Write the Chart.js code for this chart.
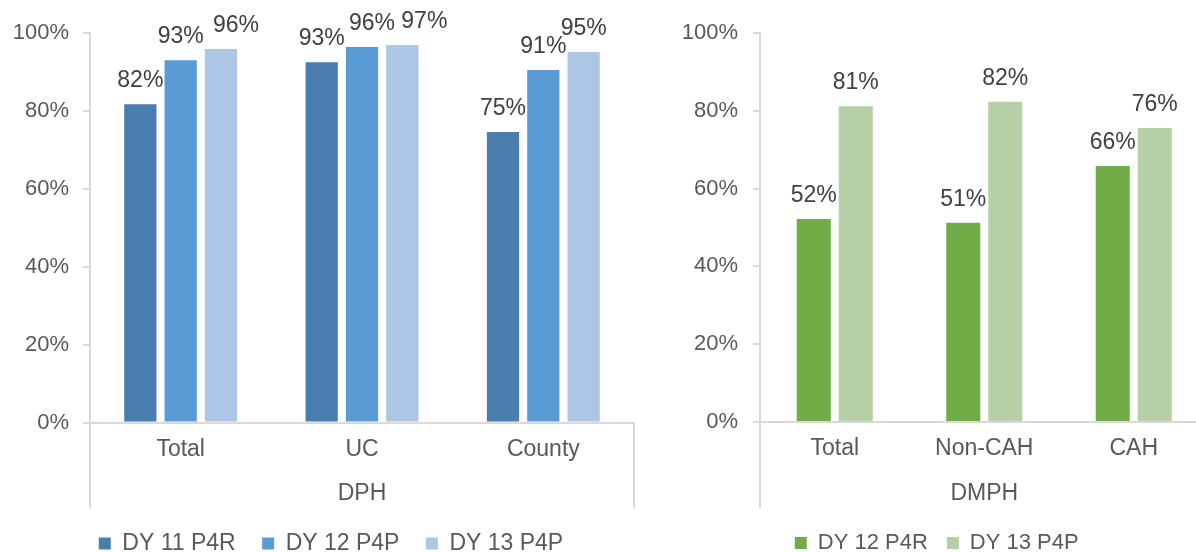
<!DOCTYPE html>
<html>
<head>
  <title>P4R / P4P results</title>
  <script src="https://cdn.jsdelivr.net/npm/chart.js"></script>
  <style>
    html, body {
      margin: 0;
      padding: 0;
      background: #fff;
      overflow: hidden;
      width: 1196px;
      height: 552px;
    }
    canvas {
      position: absolute;
      top: 0;
    }
    #chart_dph { left: 0; }
    #chart_dmph { left: 640px; }
  </style>
</head>
<body>
  <canvas id="chart_dph" width="640" height="565"></canvas>
  <canvas id="chart_dmph" width="572" height="564"></canvas>

  <script>
    // DPH systems
    const dphCategories = ['Total', 'UC', 'County'];
    const dphDy11P4R = [81.7, 92.5, 74.6];
    const dphDy12P4P = [93.0, 96.4, 90.5];
    const dphDy13P4P = [95.9, 96.9, 95.1];

    // DMPH systems
    const dmphCategories = ['Total', 'Non-CAH', 'CAH'];
    const dmphDy12P4R = [52.2, 51.2, 65.8];
    const dmphDy13P4P = [81.2, 82.3, 75.6];

    const yTicks = [0, 20, 40, 60, 80, 100];

    const axisGrey = '#d9d9d9';
    const textGrey = '#595959';

    Chart.defaults.font.family = '"Liberation Sans", Arial, sans-serif';
    Chart.defaults.color = textGrey;

    // value labels above each bar
    const barLabels = {
      id: 'barLabels',
      afterDatasetsDraw(chart, args, opts) {
        const ctx = chart.ctx;
        ctx.save();
        ctx.font = '23px "Liberation Sans", Arial, sans-serif';
        ctx.fillStyle = '#404040';
        ctx.textAlign = 'center';
        ctx.textBaseline = 'alphabetic';
        chart.data.datasets.forEach((ds, i) => {
          chart.getDatasetMeta(i).data.forEach((bar, j) => {
            const nudge = (opts.nudge && opts.nudge[i] && opts.nudge[i][j]) || 0;
            ctx.fillText(Math.round(ds.data[j]) + '%', bar.x + nudge, bar.y - 17);
          });
        });
        ctx.restore();
      }
    };

    // the axis lines run on below the category labels at both ends
    const axisEnds = {
      id: 'axisEnds',
      afterDraw(chart, args, opts) {
        const ctx = chart.ctx;
        const area = chart.chartArea;
        ctx.save();
        ctx.strokeStyle = axisGrey;
        ctx.lineWidth = 2;
        ctx.beginPath();
        [area.left, area.right].forEach(x => {
          const px = Math.round(x);
          ctx.moveTo(px, area.bottom);
          ctx.lineTo(px, area.bottom + opts.drop);
        });
        ctx.stroke();
        ctx.restore();
      }
    };

    // slide the legend sideways without moving the plot
    const legendShift = {
      id: 'legendShift',
      afterLayout(chart, args, opts) {
        if (!chart.legend || !opts.dx) return;
        chart.legend.left += opts.dx;
        chart.legend.right += opts.dx;
      }
    };

    function makeChart(id, categories, datasets, o) {
      return new Chart(document.getElementById(id), {
        type: 'bar',
        data: { labels: categories, datasets: datasets },
        plugins: [barLabels, axisEnds, legendShift],
        options: {
          responsive: false,
          animation: false,
          devicePixelRatio: 1,
          layout: { padding: { left: o.padLeft, right: o.padRight, top: 33, bottom: 0 } },
          datasets: {
            bar: {
              barPercentage: o.barPct,
              categoryPercentage: o.catPct,
              borderWidth: 0
            }
          },
          scales: {
            x: {
              grid: { display: false, drawTicks: false },
              border: { display: true, color: axisGrey, width: 2 },
              ticks: { font: { size: 23 }, color: textGrey, padding: 13 },
              title: {
                display: true,
                text: o.title,
                font: { size: 23 },
                color: textGrey,
                padding: { top: 0, bottom: o.titlePad }
              },
              afterFit: s => { s.height = o.xHeight; }
            },
            y: {
              min: 0,
              max: 100,
              afterBuildTicks: s => { s.ticks = yTicks.map(v => ({ value: v })); },
              grid: {
                drawOnChartArea: false,
                drawTicks: true,
                tickLength: 7,
                color: axisGrey,
                lineWidth: 2
              },
              border: { display: true, color: axisGrey, width: 2 },
              ticks: {
                font: { size: 22 },
                color: textGrey,
                padding: o.tickPad,
                callback: v => v + '%'
              },
              afterFit: s => { s.width = o.yWidth; }
            }
          },
          plugins: {
            legend: {
              position: 'bottom',
              labels: {
                boxWidth: 12,
                boxHeight: 12,
                padding: o.legendPad,
                color: textGrey,
                font: { size: o.legendFont }
              }
            },
            tooltip: { enabled: false },
            barLabels: { nudge: o.nudge },
            axisEnds: { drop: 86 },
            legendShift: { dx: o.legendDx }
          }
        }
      });
    }

    makeChart('chart_dph', dphCategories, [
      { label: 'DY 11 P4R', data: dphDy11P4R, backgroundColor: '#4a7eaf' },
      { label: 'DY 12 P4P', data: dphDy12P4P, backgroundColor: '#5b9bd5' },
      { label: 'DY 13 P4P', data: dphDy13P4P, backgroundColor: '#adc6e6' }
    ], {
      title: 'DPH',
      padLeft: 4, padRight: 6, yWidth: 86, tickPad: 14,
      barPct: 0.8, catPct: 0.667,
      xHeight: 83, titlePad: -2,
      legendFont: 23, legendPad: 26.5, legendDx: 12,
      nudge: [[0, 0, 0], [0, 10, 0], [15, 22, 0]]
    });

    makeChart('chart_dmph', dmphCategories, [
      { label: 'DY 12 P4R', data: dmphDy12P4R, backgroundColor: '#70ad47' },
      { label: 'DY 13 P4P', data: dmphDy13P4P, backgroundColor: '#b5cfa7' }
    ], {
      title: 'DMPH',
      padLeft: 25, padRight: 3.5, yWidth: 95, tickPad: 15,
      barPct: 0.81, catPct: 0.562,
      xHeight: 91, titlePad: 6,
      legendFont: 22, legendPad: 19, legendDx: 0,
      nudge: null
    });
  </script>
</body>
</html>
